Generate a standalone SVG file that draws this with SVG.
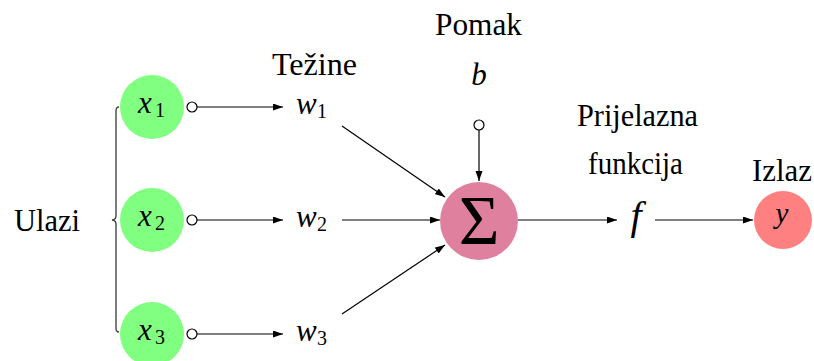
<svg xmlns="http://www.w3.org/2000/svg" width="814" height="361" viewBox="0 0 814 361">
<defs>
<marker id="arr" markerUnits="userSpaceOnUse" markerWidth="11" markerHeight="8" refX="10" refY="3.5" orient="auto">
<path d="M0,0 L10,3.5 L0,7 z" fill="#000"/>
</marker>
<style>
text{font-family:'Liberation Serif','Times New Roman',serif;fill:#000}
.lbl{font-size:31px}
.m{font-style:italic;font-size:31px}
.sub{font-size:20px}
.in{fill:#80ff80}
.dot{fill:#fff;stroke:#000;stroke-width:1.2}
.c{stroke:#000;stroke-width:1.2;fill:none}
</style>
</defs>
<rect width="814" height="361" fill="#fff"/>
<g id="labels">
<text class="lbl" x="14" y="231" textLength="66" lengthAdjust="spacingAndGlyphs">Ulazi</text>
<text class="lbl" x="272" y="75" textLength="85" lengthAdjust="spacingAndGlyphs">Težine</text>
<text class="lbl" x="435" y="35" textLength="87" lengthAdjust="spacingAndGlyphs">Pomak</text>
<text class="lbl" x="577" y="126" textLength="121" lengthAdjust="spacingAndGlyphs">Prijelazna</text>
<text class="lbl" x="588" y="174" textLength="95" lengthAdjust="spacingAndGlyphs">funkcija</text>
<text class="lbl" x="752" y="181" textLength="60" lengthAdjust="spacingAndGlyphs">Izlaz</text>
</g>
<g id="brace">
<path d="M119,107 Q116,107 116,111 L116,216 Q116,219.5 112,220 Q116,220.5 116,224 L116,328 Q116,332 119,332" fill="none" stroke="#444" stroke-width="1.4"/>
</g>
<g id="x1">
<circle class="in" cx="152" cy="107" r="32"/>
<text class="m" x="138" y="113">x</text><text class="sub" x="155" y="117">1</text>
</g>
<g id="x2">
<circle class="in" cx="152" cy="220" r="32"/>
<text class="m" x="138" y="226">x</text><text class="sub" x="155" y="230">2</text>
</g>
<g id="x3">
<circle class="in" cx="152" cy="334" r="32"/>
<text class="m" x="138" y="340">x</text><text class="sub" x="155" y="344">3</text>
</g>
<g id="w1"><text class="m" x="296" y="114">w</text><text class="sub" x="317" y="118">1</text></g>
<g id="w2"><text class="m" x="296" y="227">w</text><text class="sub" x="317" y="231">2</text></g>
<g id="w3"><text class="m" x="296" y="341">w</text><text class="sub" x="317" y="345">3</text></g>
<g id="b"><text class="m" x="479" y="85" text-anchor="middle">b</text></g>
<g id="sum">
<circle cx="479" cy="221" r="39" fill="#df809f"/>
<text x="479" y="244" text-anchor="middle" style="font-size:70px">Σ</text>
</g>
<g id="f"><text class="m" x="636" y="229" text-anchor="middle" style="font-size:40px">f</text></g>
<g id="y">
<circle cx="783" cy="220" r="29" fill="#ff8080"/>
<text class="m" x="782" y="223" text-anchor="middle" style="font-size:29px">y</text>
</g>
<g id="connectors">
<line class="c" x1="197" y1="107" x2="283" y2="107" marker-end="url(#arr)"/>
<line class="c" x1="197" y1="220" x2="283" y2="220" marker-end="url(#arr)"/>
<line class="c" x1="197" y1="334" x2="283" y2="334" marker-end="url(#arr)"/>
<circle class="dot" cx="192" cy="107" r="5"/>
<circle class="dot" cx="192" cy="220" r="5"/>
<circle class="dot" cx="192" cy="334" r="5"/>
<line class="c" x1="342" y1="126" x2="445" y2="197" marker-end="url(#arr)"/>
<line class="c" x1="342" y1="220" x2="440" y2="220" marker-end="url(#arr)"/>
<line class="c" x1="342" y1="314" x2="445" y2="245" marker-end="url(#arr)"/>
<line class="c" x1="479" y1="130" x2="479" y2="181" marker-end="url(#arr)"/>
<circle class="dot" cx="479" cy="125" r="5"/>
<line class="c" x1="518" y1="220" x2="617" y2="220" marker-end="url(#arr)"/>
<line class="c" x1="655" y1="220" x2="753" y2="220" marker-end="url(#arr)"/>
</g>
</svg>
